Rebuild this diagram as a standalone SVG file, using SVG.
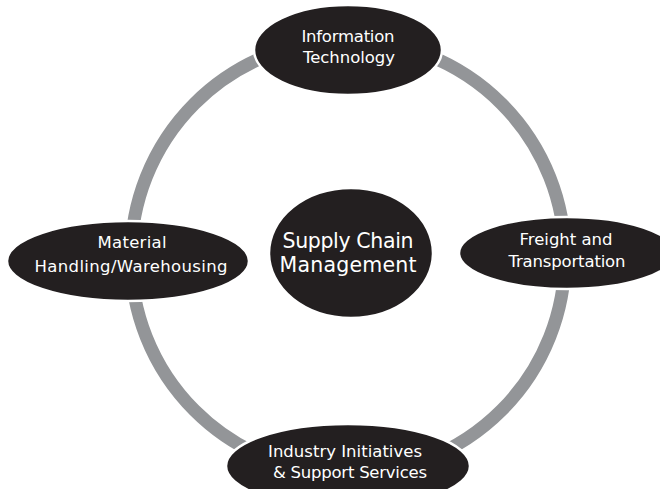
<svg xmlns="http://www.w3.org/2000/svg" width="660" height="489" viewBox="0 0 660 489">
<style>
.ring{fill:none;stroke:#939598;stroke-width:13}
.node{fill:#231f20;stroke:#ffffff;stroke-width:2.5}
.lbl{fill:#ffffff;font-family:"DejaVu Sans","Liberation Sans",sans-serif;font-size:16.5px;text-anchor:middle}
.big{font-size:20.5px}
</style>
<rect width="660" height="489" fill="#ffffff"/>
<g id="connectors">
<path class="ring" d="M348,40 A217,217 0 0 1 565,257"/>
<path class="ring" d="M565,257 A217,217 0 0 1 348,474"/>
<path class="ring" d="M348,474 A217,217 0 0 1 131,257"/>
<path class="ring" d="M131,257 A217,217 0 0 1 348,40"/>
</g>
<g id="center">
<ellipse class="node" cx="351" cy="253" rx="82" ry="65"/>
<text class="lbl big" x="348" y="248" textLength="131">Supply Chain</text>
<text class="lbl big" x="348" y="272" textLength="137">Management</text>
</g>
<g id="it">
<ellipse class="node" cx="348" cy="50" rx="94" ry="45"/>
<text class="lbl" x="348" y="42" textLength="93">Information</text>
<text class="lbl" x="349" y="63" textLength="92">Technology</text>
</g>
<g id="material">
<ellipse class="node" cx="128" cy="261" rx="121" ry="40"/>
<text class="lbl" x="132" y="248" textLength="69">Material</text>
<text class="lbl" x="131" y="272" textLength="193">Handling/Warehousing</text>
</g>
<g id="freight">
<ellipse class="node" cx="567" cy="253" rx="108" ry="36"/>
<text class="lbl" x="566" y="245" textLength="93">Freight and</text>
<text class="lbl" x="567" y="267" textLength="117">Transportation</text>
</g>
<g id="industry">
<ellipse class="node" cx="348" cy="466" rx="122" ry="42"/>
<text class="lbl" x="345" y="457" textLength="154">Industry Initiatives</text>
<text class="lbl" x="350" y="478" textLength="154">&amp; Support Services</text>
</g>
</svg>
